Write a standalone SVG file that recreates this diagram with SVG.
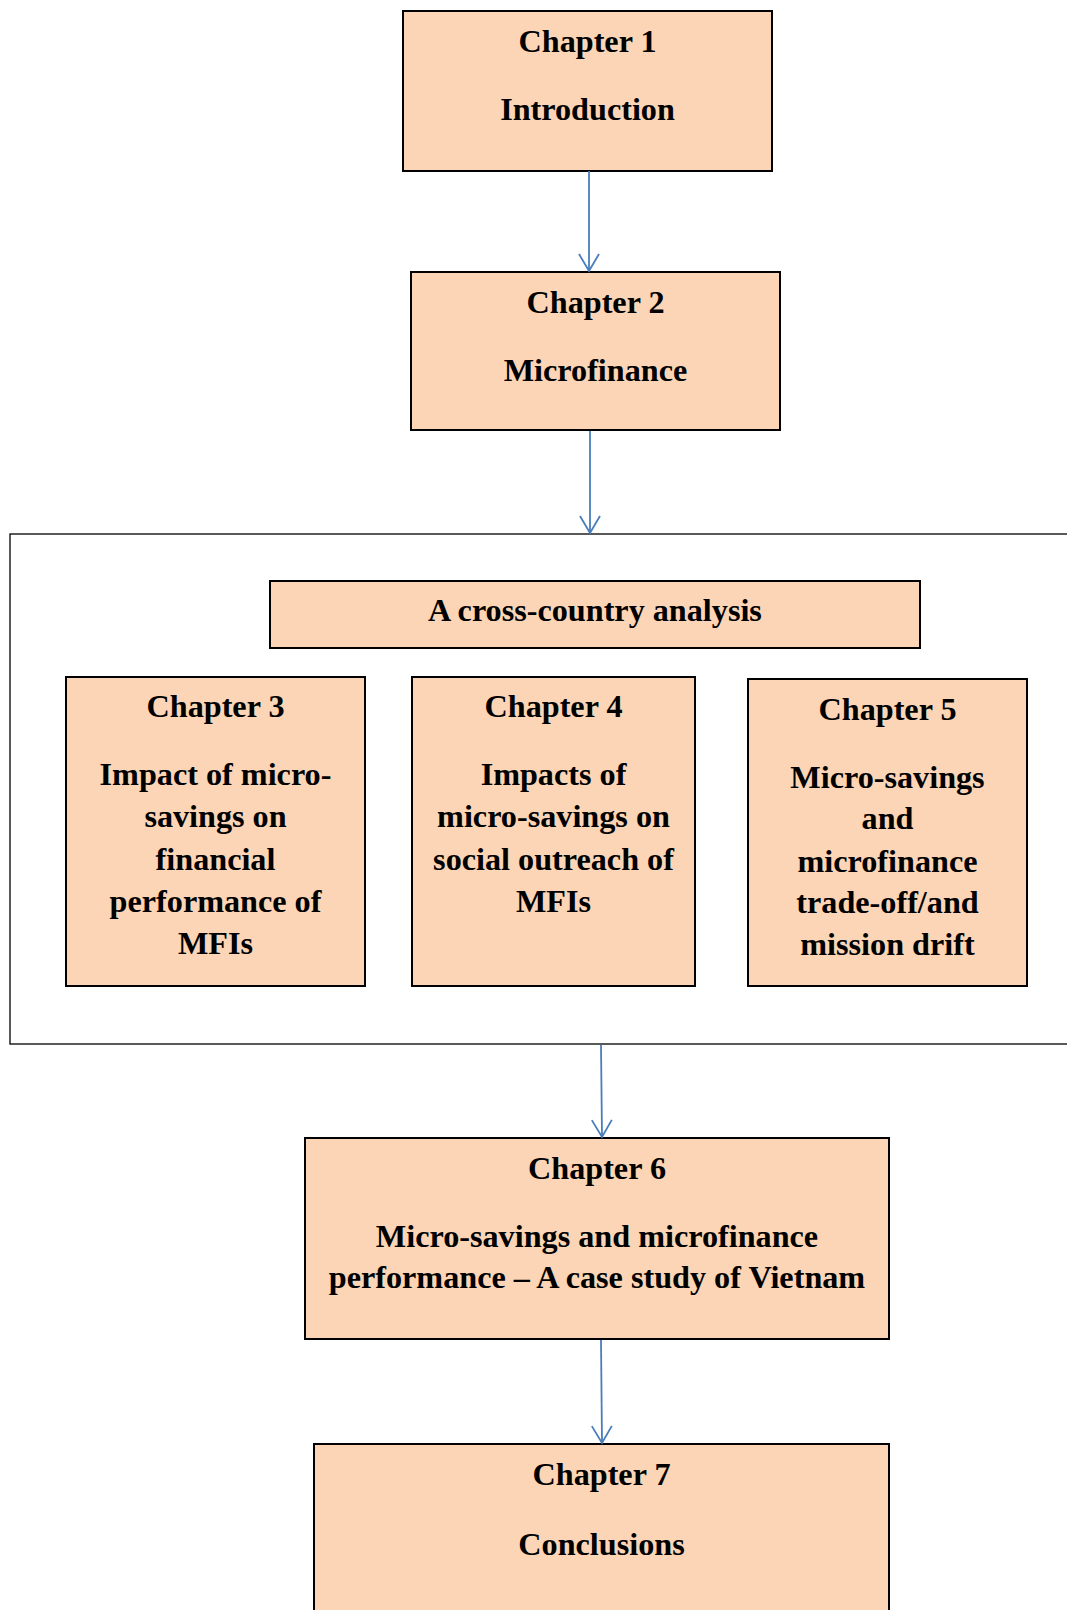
<svg xmlns="http://www.w3.org/2000/svg" width="1067" height="1610" viewBox="0 0 1067 1610">
<style>
.box{fill:#FBD5B5;stroke:#000;stroke-width:2}
.frame{fill:#fff;stroke:#000;stroke-width:1.3}
.t{font-family:"Liberation Serif","Times New Roman",serif;font-weight:bold;font-size:32.2px;fill:#000;text-anchor:middle}
.conn{stroke:#4A7EBB;stroke-width:1.8;fill:none}
</style>
<defs>
<marker id="arr" markerUnits="userSpaceOnUse" orient="auto" refX="0" refY="0" markerWidth="40" markerHeight="40" viewBox="-20 -20 40 40" overflow="visible">
<path d="M-17,-10 L0,0 L-17,10" fill="none" stroke="#4A7EBB" stroke-width="1.8"/>
</marker>
</defs>
<rect width="1067" height="1610" fill="#fff"/>

<g id="group-cross-country">
<rect class="frame" x="10" y="534" width="1070" height="510"/>
</g>

<g id="ch1">
<rect class="box" x="403" y="11" width="369" height="160"/>
<text class="t" x="587.5" y="52">Chapter 1</text>
<text class="t" x="587.5" y="120">Introduction</text>
</g>

<g id="ch2">
<rect class="box" x="411" y="272" width="369" height="158"/>
<text class="t" x="595.5" y="313">Chapter 2</text>
<text class="t" x="595.5" y="381">Microfinance</text>
</g>

<g id="cross">
<rect class="box" x="270" y="581" width="650" height="67" stroke-width="1.5"/>
<text class="t" x="595" y="621">A cross-country analysis</text>
</g>

<g id="ch3">
<rect class="box" x="66" y="677" width="299" height="309" stroke-width="1.5"/>
<text class="t" x="215.5" y="717">Chapter 3</text>
<text class="t" x="215.5" y="785">Impact of micro-</text>
<text class="t" x="215.5" y="827">savings on</text>
<text class="t" x="215.5" y="870">financial</text>
<text class="t" x="215.5" y="912">performance of</text>
<text class="t" x="215.5" y="954">MFIs</text>
</g>

<g id="ch4">
<rect class="box" x="412" y="677" width="283" height="309" stroke-width="1.5"/>
<text class="t" x="553.5" y="717">Chapter 4</text>
<text class="t" x="553.5" y="785">Impacts of</text>
<text class="t" x="553.5" y="827">micro-savings on</text>
<text class="t" x="553.5" y="870">social outreach of</text>
<text class="t" x="553.5" y="912">MFIs</text>
</g>

<g id="ch5">
<rect class="box" x="748" y="679" width="279" height="307" stroke-width="1.5"/>
<text class="t" x="887.5" y="720">Chapter 5</text>
<text class="t" x="887.5" y="788">Micro-savings</text>
<text class="t" x="887.5" y="829">and</text>
<text class="t" x="887.5" y="872">microfinance</text>
<text class="t" x="887.5" y="913">trade-off/and</text>
<text class="t" x="887.5" y="955">mission drift</text>
</g>

<g id="ch6">
<rect class="box" x="305" y="1138" width="584" height="201"/>
<text class="t" x="597" y="1179">Chapter 6</text>
<text class="t" x="597" y="1247">Micro-savings and microfinance</text>
<text class="t" x="597" y="1288">performance – A case study of Vietnam</text>
</g>

<g id="ch7">
<rect class="box" x="314" y="1444" width="575" height="200"/>
<text class="t" x="601.5" y="1485">Chapter 7</text>
<text class="t" x="601.5" y="1555">Conclusions</text>
</g>

<g id="connectors">
<line class="conn" x1="589" y1="171" x2="589" y2="271" marker-end="url(#arr)"/>
<line class="conn" x1="590" y1="431" x2="590" y2="533" marker-end="url(#arr)"/>
<line class="conn" x1="601" y1="1045" x2="602" y2="1137" marker-end="url(#arr)"/>
<line class="conn" x1="601" y1="1340" x2="602" y2="1443" marker-end="url(#arr)"/>
</g>
</svg>
